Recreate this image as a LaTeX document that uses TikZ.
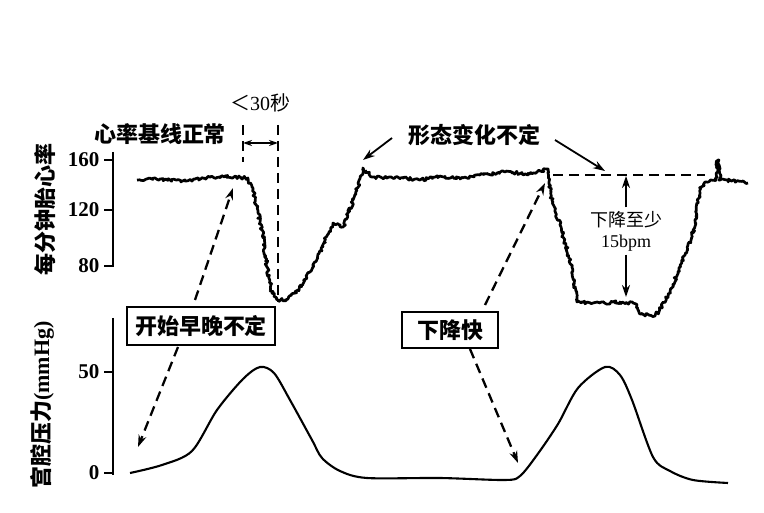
\documentclass[tikz,border=0pt]{standalone}
\usepackage{fontspec}
\setmainfont{Liberation Serif}
\newfontfamily\cjk{Noto Sans CJK SC}
\usetikzlibrary{arrows.meta,decorations.pathmorphing,positioning}

\begin{document}
\begin{tikzpicture}[x=1pt,y=-1pt,
  trace/.style={line width=2.7pt,line join=round,decorate,
    decoration={random steps,segment length=1.6pt,amplitude=1.6pt}},
  press/.style={line width=2.1pt},
  axis/.style={line width=2.4pt},
  dashline/.style={line width=2.3pt,dash pattern=on 10pt off 6pt},
  arr/.style={-{Stealth[length=12pt,width=8pt]},line width=1.8pt},
  lab/.style={font=\cjk\bfseries\fontsize{22}{24}\selectfont},
  thin/.style={font=\cjk\fontsize{18}{21}\selectfont,align=center},
  tick/.style={font=\bfseries\fontsize{21}{23}\selectfont,anchor=east},
  box/.style={draw,line width=1.7pt,inner sep=0pt,lab}]
\useasboundingbox (0,0) rectangle (764,513);
\pgfmathsetseed{11}

% axes
\draw[axis] (113,152) -- (113,267);
\draw[axis] (113,318) -- (113,475);
\foreach \v/\y in {160/160,120/210,80/266}{
  \draw[axis] (104,\y) -- (113,\y);
  \node(t\v) at (103,\y)[tick]{\v};
}
\foreach \v/\y in {50/372,0/473}{
  \draw[axis] (104,\y) -- (113,\y);
  \node(p\v) at (103,\y)[tick]{\v};
}
\node(ylab1) at (45,210)[lab,rotate=90]{每分钟胎心率};
\node(ylab2) at (42,405)[lab,rotate=90]{宫腔压力\fontspec{Liberation Serif}(mmHg)};

% heart rate trace
\draw[trace] (137,180) -- (160,179) -- (185,181) -- (205,178) -- (225,176)
  -- (248,178) -- (253,190) -- (262,230) -- (267,267) -- (272,293)
  -- (278,300) -- (288,299) -- (298,290) -- (313,267) -- (333,223)
  -- (343,227) -- (357,190) -- (363,168) -- (372,177) -- (400,178)
  -- (420,180) -- (440,176) -- (460,179) -- (480,175) -- (505,172)
  -- (530,174) -- (548,169) -- (552,200) -- (560,225) -- (572,267)
  -- (577,302) -- (600,303) -- (620,302) -- (636,304) -- (640,314)
  -- (655,316) -- (662,306) -- (670,292) -- (685,255) -- (693,233)
  -- (700,190) -- (705,182) -- (716,180) -- (718,160) -- (720,180)
  -- (735,181) -- (748,183);

% pressure curve
\draw[press] plot[smooth,tension=0.5] coordinates {(130,473) (162,465)
  (192,451) (217,410) (243,379) (260,367) (274,373) (290,400) (312,440)
  (322,458) (340,471) (367,478) (440,478) (505,480) (520,476) (537,455)
  (558,424) (578,388) (605,367) (620,375) (632,400) (653,457) (670,471)
  (693,480) (728,483)};

% markers
\coordinate(v1t) at (243,125);
\coordinate(v1b) at (243,162);
\coordinate(v2t) at (278,125);
\coordinate(v2b) at (278,302);
\draw[dashline] (v1t) -- (v1b);
\draw[dashline] (v2t) -- (v2b);
\coordinate(dl) at (243,143);
\coordinate(dr) at (278,143);
\draw[{Stealth[length=9pt,width=6pt]}-{Stealth[length=9pt,width=6pt]},line width=1.6pt] (dl) -- (dr);
\coordinate(b1) at (553,175);
\coordinate(b2) at (705,175);
\draw[dashline] (b1) -- (b2);

% labels
\node(sec) at (260,103)[font=\fontsize{20}{22}\selectfont]{{\cjk ＜}30{\cjk 秒}};
\node(base) at (160,134)[lab]{心率基线正常};
\node(shape) at (474,135)[lab]{形态变化不定};
\node(drop) at (626,231)[thin]{下降至少\\\fontspec{Liberation Serif}15bpm};
\node(onset) at (201,326)[box,minimum width=148pt,minimum height=38pt]{开始早晚不定};
\node(fast) at (450,330)[box,minimum width=96pt,minimum height=36pt]{下降快};

\coordinate(s1) at (392,138);
\coordinate(e1) at (363,160);
\coordinate(s2) at (555,140);
\coordinate(e2) at (605,171);
\coordinate(up) at (626,176);
\coordinate(dn) at (626,297);
\coordinate(o1) at (195,300);
\coordinate(o2) at (233,188);
\coordinate(o3) at (178,347);
\coordinate(o4) at (138,447);
\coordinate(f1) at (485,305);
\coordinate(f2) at (545,183);
\coordinate(f3) at (470,349);
\coordinate(f4) at (518,463);

\path [every edge/.style={draw,arr}]
  (s1)        edge (e1)
  (s2)        edge (e2)
  (drop.north) edge (up)
  (drop.south) edge (dn);
\path [every edge/.style={draw,arr,dashline}]
  (o1)        edge (o2)
  (o3)        edge (o4)
  (f1)        edge (f2)
  (f3)        edge (f4);

\end{tikzpicture}
\end{document}
